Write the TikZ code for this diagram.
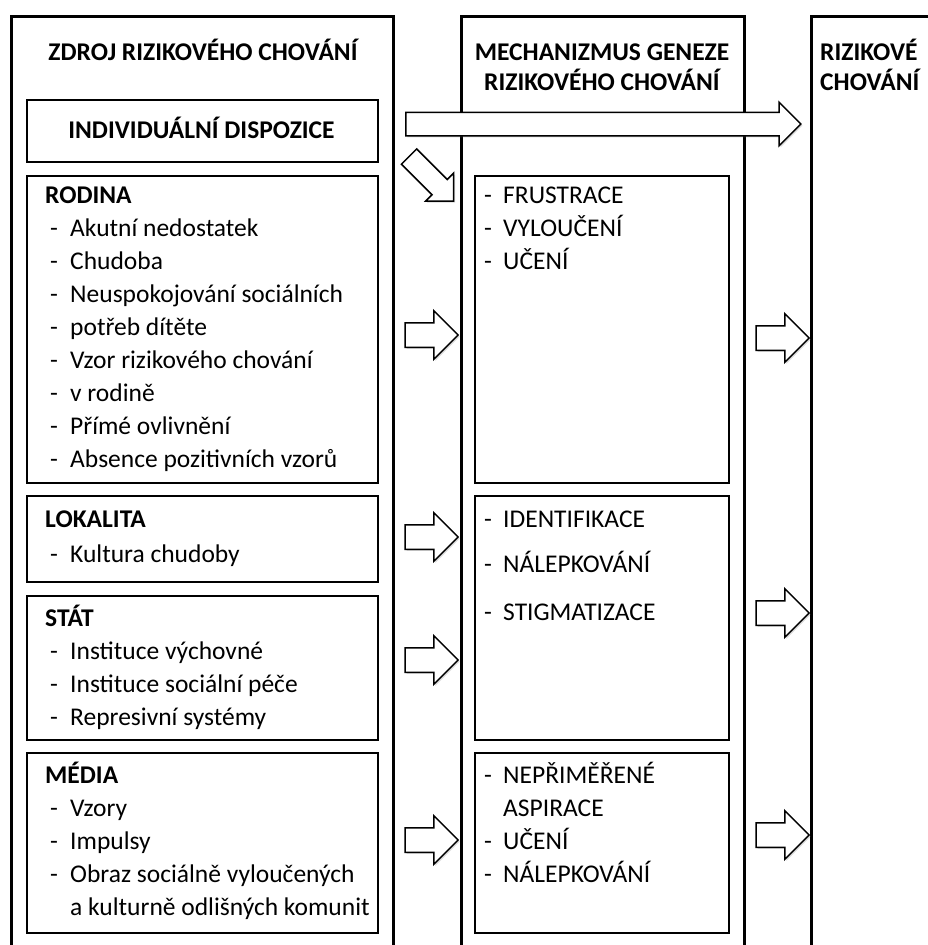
\documentclass[tikz,border=0pt]{standalone}
\usepackage{fontspec}
\setmainfont{Carlito}
\usetikzlibrary{shapes.arrows,shadows}
\begin{document}
\begin{tikzpicture}[x=1pt,y=-1pt,
  col/.style={draw, line width=3pt, anchor=north west, inner sep=0pt},
  ibox/.style={draw, line width=2pt, anchor=north west, inner sep=0pt},
  txt/.style={anchor=base west, inner sep=0pt, font=\fontsize{25.5}{30}\selectfont},
  hd/.style={txt, font=\fontsize{25.5}{30}\selectfont\bfseries},
  ttl/.style={anchor=base, inner sep=0pt, font=\fontsize{25.5}{30}\selectfont\bfseries},
  dsh/.style={anchor=base, inner sep=0pt, font=\fontsize{25.5}{30}\selectfont},
  barrow/.style={single arrow, draw, fill=white, line width=1.5pt, inner xsep=0pt,
    inner ysep=11.5pt, single arrow head extend=12pt, minimum height=53pt,
    drop shadow={shadow xshift=1.5pt, shadow yshift=-1.5pt, opacity=0.3}},
]
\useasboundingbox (0,0) rectangle (928,945);
% columns
\node[col, minimum width=382pt, minimum height=960pt] (colL) at (10,15) {};
\node[col, minimum width=283pt, minimum height=960pt] (colM) at (460,15) {};
\node[col, minimum width=160pt, minimum height=960pt] (colR) at (810,15) {};
% titles
\node[ttl] (tL) at (203,60) {ZDROJ RIZIKOVÉHO CHOVÁNÍ};
\node[ttl] (tM1) at (602,60) {MECHANIZMUS GENEZE};
\node[ttl] (tM2) at (602,90) {RIZIKOVÉHO CHOVÁNÍ};
\node[ttl, anchor=base west] (tR1) at (820,60) {RIZIKOVÉ};
\node[ttl, anchor=base west] (tR2) at (820,90) {CHOVÁNÍ};
% left boxes
\node[ibox, minimum width=351pt, minimum height=62pt] (indiv) at (26,99) {};
\node[ttl] (indivT) at (201.5,138) {INDIVIDUÁLNÍ DISPOZICE};
\node[ibox, minimum width=351pt, minimum height=307pt] (rodina) at (26,175) {};
\node[ibox, minimum width=351pt, minimum height=86pt] (lokalita) at (26,495) {};
\node[ibox, minimum width=351pt, minimum height=144pt] (stat) at (26,595) {};
\node[ibox, minimum width=351pt, minimum height=180pt] (media) at (26,752) {};
% middle boxes
\node[ibox, minimum width=254pt, minimum height=307pt] (m1) at (474,175) {};
\node[ibox, minimum width=254pt, minimum height=244pt] (m2) at (474,495) {};
\node[ibox, minimum width=254pt, minimum height=180pt] (m3) at (474,752) {};
% left texts
\node[hd] (hR) at (45,203) {RODINA};
\foreach \t [count=\i] in {Akutní nedostatek, Chudoba, Neuspokojování sociálních, potřeb dítěte, Vzor rizikového chování, v rodině, Přímé ovlivnění, Absence pozitivních vzorů}{
  \node[dsh] (rd\i) at (54,236+33*\i-33) {-};
  \node[txt] (rt\i) at (70,236+33*\i-33) {\t};
}
\node[hd] (hL) at (45,527) {LOKALITA};
\node[dsh] (ld1) at (54,562) {-};
\node[txt] (lt1) at (70,562) {Kultura chudoby};
\node[hd] (hS) at (45,626) {STÁT};
\foreach \t [count=\i] in {Instituce výchovné, Instituce sociální péče, Represivní systémy}{
  \node[dsh] (sd\i) at (54,659+33*\i-33) {-};
  \node[txt] (st\i) at (70,659+33*\i-33) {\t};
}
\node[hd] (hM) at (45,783) {MÉDIA};
\foreach \t [count=\i] in {Vzory, Impulsy, Obraz sociálně vyloučených}{
  \node[dsh] (md\i) at (54,816+33*\i-33) {-};
  \node[txt] (mt\i) at (70,816+33*\i-33) {\t};
}
\node[txt] (mt4) at (70,915) {a kulturně odlišných komunit};
% middle texts
\foreach \t/\y [count=\i] in {FRUSTRACE/203, VYLOUČENÍ/236, UČENÍ/269, IDENTIFIKACE/527, NÁLEPKOVÁNÍ/572, STIGMATIZACE/620, NEPŘIMĚŘENÉ/783, UČENÍ/849, NÁLEPKOVÁNÍ/882}{
  \node[dsh] (cd\i) at (488,\y) {-};
  \node[txt] (ct\i) at (503,\y) {\t};
}
\node[txt] (ct10) at (503,816) {ASPIRACE};
% arrows
\node[barrow, minimum height=395pt, inner ysep=11pt, single arrow head extend=10pt] (big) at (597.5,124) {};
\node[barrow, rotate=-45, minimum height=63pt, inner ysep=10pt, single arrow head extend=9pt] (diag) at (427.5,175) {};
\foreach \y [count=\i] in {335,537,660,840}{
  \node[barrow] (a\i) at (425.5,\y) {};
}
\foreach \y [count=\i] in {338,613,835}{
  \node[barrow] (b\i) at (776.5,\y) {};
}
\end{tikzpicture}
\end{document}
